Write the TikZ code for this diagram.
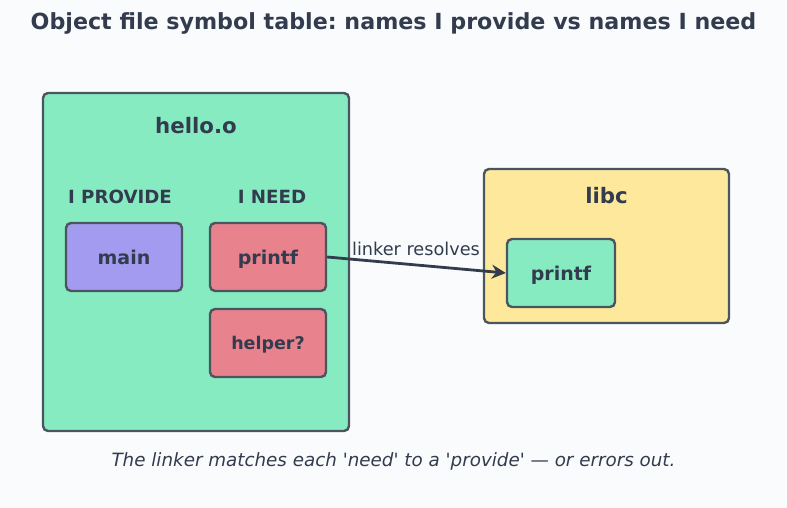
\documentclass[tikz,border=0pt]{standalone}
\usepackage{fontspec}
\setmainfont{DejaVu Sans}
\usetikzlibrary{arrows.meta}
\frenchspacing
\definecolor{bg}{HTML}{FAFBFD}
\definecolor{ink}{HTML}{323C4E}
\definecolor{edge}{HTML}{4B5560}
\definecolor{mint}{HTML}{86EBC1}
\definecolor{lav}{HTML}{A29BEF}
\definecolor{rose}{HTML}{E8838E}
\definecolor{sand}{HTML}{FDE89C}
\tikzset{
  box/.style={draw=edge, line width=2.4pt, rounded corners=5pt},
  sym/.style={box, minimum width=116pt, minimum height=68pt, text=ink, font=\bfseries\fontsize{19}{22}\selectfont, inner sep=0pt, text height=14.6pt, text depth=0pt},
  lbl/.style={text=ink, font=\bfseries\fontsize{18.2}{21}\selectfont},
}
\begin{document}
\begin{tikzpicture}[x=1pt,y=-1pt]
\fill[bg] (0,0) rectangle (787,508);
\useasboundingbox (0,0) rectangle (787,508);
\node[text=ink, font=\bfseries\fontsize{22.2}{26}\selectfont] (title) at (393.5,23) {Object file symbol table: names I provide vs names I need};
\node[box, fill=mint, minimum width=306pt, minimum height=338pt, inner sep=0pt] (hello) at (196,262) {};
\node[text=ink, font=\bfseries\fontsize{21.3}{25}\selectfont] (hellot) at (196,126) {hello.o};
\node[lbl] (prov) at (120,197) {I PROVIDE};
\node[lbl] (need) at (272,197) {I NEED};
\node[sym, fill=lav] (main) at (124,257) {main};
\node[sym, fill=rose] (printf) at (268,257) {printf};
\node[sym, fill=rose, font=\bfseries\fontsize{17.5}{21}\selectfont, text height=13.3pt] (helper) at (268,343) {helper?};
\node[box, fill=sand, minimum width=245pt, minimum height=154pt, inner sep=0pt] (libc) at (606.5,246) {};
\node[text=ink, font=\bfseries\fontsize{21.3}{25}\selectfont] (libct) at (606.5,196) {libc};
\node[sym, fill=mint, minimum width=108pt] (lprintf) at (561,273) {printf};
\draw[draw=ink, line width=2.8pt, -{Stealth[length=14pt,width=14pt]}] (printf.east) -- (lprintf.west);
\node[text=ink, font=\fontsize{17.7}{21}\selectfont] (lr) at (416,249) {linker resolves};
\node[text=ink, font=\itshape\fontsize{18.3}{22}\selectfont] (cap) at (393.5,461) {The linker matches each \textquotesingle need\textquotesingle\ to a \textquotesingle provide\textquotesingle\ — or errors out.};
\end{tikzpicture}
\end{document}
